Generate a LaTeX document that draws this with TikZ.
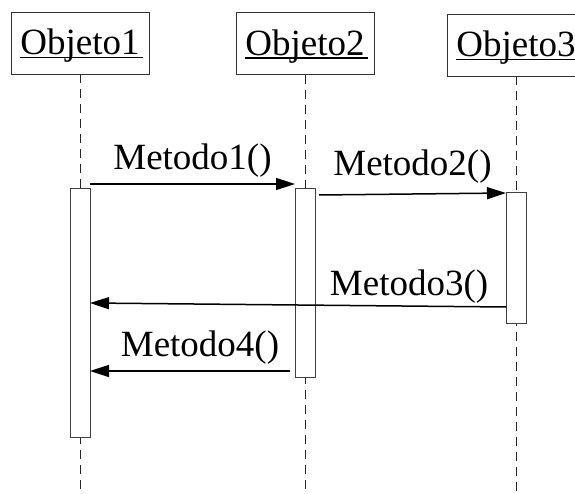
\documentclass[tikz,border=0pt]{standalone}
\usepackage{fontspec}
\setmainfont{Liberation Serif}
\usepackage{tikz}
\usetikzlibrary{positioning,calc,arrows.meta}

\newsavebox{\namebox}
\newcommand{\objname}[1]{\sbox{\namebox}{#1}\rlap{\rule[-3.5pt]{\dimexpr\wd\namebox+3pt\relax}{1.5pt}}\usebox{\namebox}}

\tikzset{
    object/.style={draw=black!80, line width=1pt, fill=white, minimum width=138pt, minimum height=62pt,
        text height=25pt, text depth=2pt, inner sep=0pt, outer sep=0pt},
    lifeline/.style={draw=black!85, line width=1pt, dash pattern=on 9pt off 6pt},
    act/.style={draw=black!75, line width=1pt, fill=white, minimum width=20pt, inner sep=0pt, outer sep=0pt},
    msg/.style={draw=black, line width=1.5pt, -{Triangle[length=19pt,width=12pt]}},
    msglabel/.style={inner sep=0pt}
}

\begin{document}
\begin{tikzpicture}[x=1pt, y=-1pt, font=\fontsize{37}{40}\selectfont]
    \useasboundingbox (0,0) rectangle (575,494);

    % Objects
    \node[object] (o1) at (80,43.5) {\objname{Objeto1}};
    \node[object] (o2) at (305,44) {\objname{Objeto2}};
    \node[object] (o3) at (516,45.5) {\objname{Objeto3}};

    % Lifelines
    \coordinate (e1) at (80,494);
    \coordinate (e2) at (305,494);
    \coordinate (e3) at (516,494);
    \draw[lifeline] (o1) -- (e1);
    \draw[lifeline] (o2) -- (e2);
    \draw[lifeline] (o3) -- (e3);

    % Activations
    \node[act, minimum height=248pt] (a1) at (80,313) {};
    \node[act, minimum height=188pt] (a2) at (305,283) {};
    \node[act, minimum height=130pt] (a3) at (516,258) {};

    % Messages
    \draw[msg] ([yshift=5pt]a1.north east) -- ([yshift=5pt]a2.north west)
        node[msglabel, midway, above=5.5pt] (m1) {Metodo1()};
    \draw[msg] ([xshift=4pt,yshift=-6pt]a2.north east) -- (a3.north west)
        node[msglabel, midway, above=9.5pt] (m2) {Metodo2()};
    \draw[msg] ([yshift=16pt]a3.south west) -- ([yshift=134pt]a1.south east)
        node[msglabel, pos=0.233, above=1.5pt] (m3) {Metodo3()};
    \draw[msg] ([xshift=-5pt,yshift=6pt]a2.south west) -- ([yshift=66pt]a1.south east)
        node[msglabel, pos=0.45, above=5.5pt] (m4) {Metodo4()};

\end{tikzpicture}
\end{document}
